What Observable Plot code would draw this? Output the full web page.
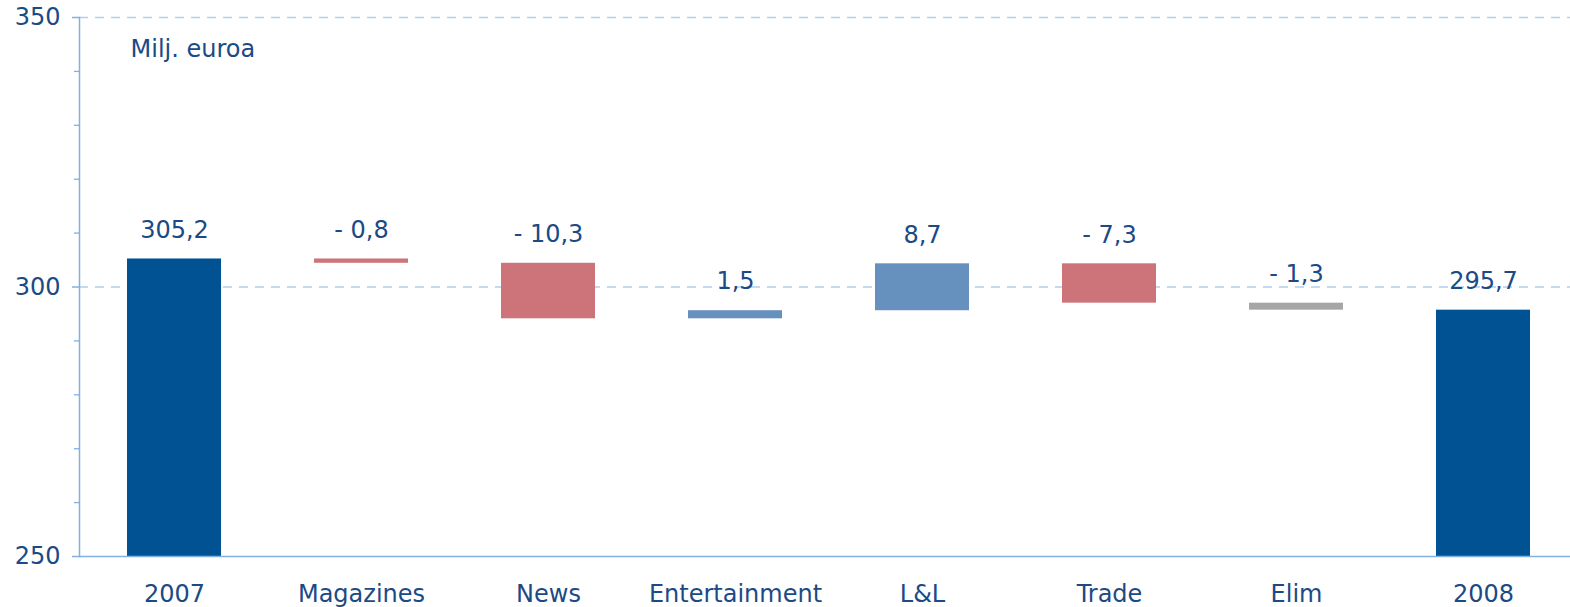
<!DOCTYPE html>
<html><head><meta charset="utf-8">
<script src="https://cdn.jsdelivr.net/npm/d3@7"></script>
<script src="https://cdn.jsdelivr.net/npm/@observablehq/plot@0.6"></script>
<style>html,body{margin:0;padding:0;background:#fff;overflow:hidden}</style>
</head><body><div id="chart"></div>
<script>
const categories = ["2007","Magazines","News","Entertainment","L&L","Trade","Elim","2008"];
const kinds = ["total","change","change","change","change","change","change","total"];
const values = [305.2, -0.8, -10.3, 1.5, 8.7, -7.3, -1.3, 295.7];
const colors = ["#005293","#cc747a","#cc747a","#6690be","#6690be","#cc747a","#a6a6a6","#005293"];
const majorTicks = [250, 300, 350];
const minorTicks = [260, 270, 280, 290, 310, 320, 330, 340];
const gridTicks = [300, 350];
const unitLabel = "Milj. euroa";

let running = 0;
const rows = categories.map((c, i) => {
  let lo, hi;
  if (kinds[i] === "total") { running = values[i]; lo = 250; hi = values[i]; }
  else { const s = running; running = s + values[i]; lo = Math.min(s, running); hi = Math.max(s, running); }
  const v = values[i];
  const txt = (v < 0 ? "- " : "") + Math.abs(v).toFixed(1).replace(".", ",");
  return {cat: c, lo, hi, fill: colors[i], txt};
});

const textColor = "#1b4a85";
const axisColor = "#82b0e2";

const chart = Plot.plot({
  width: 1570, height: 607,
  marginLeft: 79, marginRight: 0, marginTop: 17, marginBottom: 51,
  style: {fontFamily: "'DejaVu Sans', Verdana, sans-serif", fontSize: "24px", background: "#fff"},
  x: {domain: categories, range: [79, 1577], paddingInner: 0.5, paddingOuter: 0.25, label: null},
  y: {domain: [250, 350], label: null},
  marks: [
    Plot.ruleY(gridTicks, {stroke: "#b3cdec", strokeDasharray: "9,7", strokeWidth: 1.3}),
    Plot.barY(rows, {x: "cat", y1: "lo", y2: "hi", fill: "fill"}),
    Plot.text(rows, {x: "cat", y: "hi", text: "txt", dy: -29, lineAnchor: "middle", fill: textColor, fontSize: 24}),
    Plot.ruleY([250], {stroke: axisColor, strokeWidth: 1.5}),
    Plot.frame({anchor: "left", stroke: axisColor, strokeWidth: 1.5}),
    Plot.axisY(minorTicks, {tickSize: 5, text: null, stroke: axisColor, strokeWidth: 1.3, label: null}),
    Plot.axisY(majorTicks, {tickSize: 7, tickPadding: 12, stroke: axisColor, strokeWidth: 1.5, fill: textColor, fontSize: 24, label: null}),
    Plot.axisX({tickSize: 0, tickPadding: 28, fill: textColor, fontSize: 24, label: null}),
    Plot.text([unitLabel], {frameAnchor: "top-left", dx: 51, dy: 32, textAnchor: "start", lineAnchor: "middle", fill: textColor, fontSize: 24})
  ]
});
document.getElementById("chart").appendChild(chart);
</script></body></html>
